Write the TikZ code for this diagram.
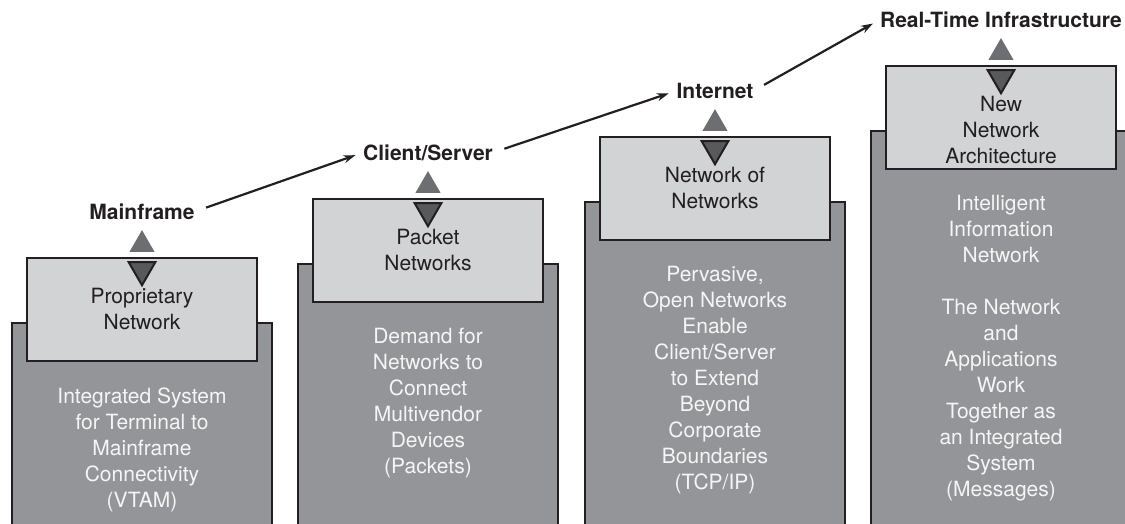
\documentclass[tikz,border=0pt]{standalone}
\usepackage{fontspec}
\setmainfont{TeX Gyre Heros}
\usetikzlibrary{positioning}
\usetikzlibrary{shapes.geometric}
\usetikzlibrary{arrows.meta}
\definecolor{pillargray}{RGB}{147,149,152}
\definecolor{boxgray}{RGB}{209,211,212}
\definecolor{upgray}{RGB}{109,110,113}
\definecolor{downgray}{RGB}{88,89,91}
\definecolor{edgegray}{RGB}{35,31,32}
\newcommand{\stagefont}{\fontsize{21}{26}\selectfont}
\tikzstyle{pillar} = [rectangle, draw=edgegray, fill=pillargray, line width=2.4pt, minimum width=260pt, minimum height=420pt, inner sep=0pt]
\tikzstyle{netbox} = [rectangle, draw=edgegray, fill=boxgray, line width=2.4pt, minimum width=230pt, minimum height=103pt, inner sep=0pt]
\tikzstyle{uptri} = [regular polygon, regular polygon sides=3, fill=upgray, inner sep=0pt, minimum size=28.9pt]
\tikzstyle{downtri} = [regular polygon, regular polygon sides=3, shape border rotate=180, fill=downgray, draw=edgegray, line width=2pt, inner sep=0pt, minimum size=31pt]
\tikzstyle{era} = [font=\bfseries\stagefont, text=edgegray, inner sep=0pt]
\tikzstyle{boxtext} = [align=center, font=\stagefont, text=edgegray, inner sep=0pt]
\tikzstyle{bodytext} = [align=center, font=\stagefont, text=white!96!black, inner sep=0pt]
\tikzstyle{flow} = [-{Stealth[length=12pt, width=8pt]}, draw=edgegray, line width=2.2pt, shorten <=12pt, shorten >=8pt]

\begin{document}
\begin{tikzpicture}[x=1pt, y=-1pt]
\useasboundingbox (0,0) rectangle (1125,524);
\clip (0,0) rectangle (1125,524);

% Define nodes
\node[pillar, anchor=north]                         (p1) at (142,322)  {};
\node[pillar, anchor=north]                         (p2) at (428,263)  {};
\node[pillar, anchor=north]                         (p3) at (715,201)  {};
\node[pillar, anchor=north]                         (p4) at (1001,130) {};

\node[netbox, anchor=north] (box1) at ([yshift=65pt]p1.north) {};
\node[netbox, anchor=north] (box2) at ([yshift=65pt]p2.north) {};
\node[netbox, anchor=north] (box3) at ([yshift=65pt]p3.north) {};
\node[netbox, anchor=north] (box4) at ([yshift=65pt]p4.north) {};

\node[uptri,   above = 5pt of box1]                 (up1)   {};
\node[downtri, below = 4pt of box1.north]           (down1) {};
\node[uptri,   above = 5pt of box2]                 (up2)   {};
\node[downtri, below = 4pt of box2.north]           (down2) {};
\node[uptri,   above = 5pt of box3]                 (up3)   {};
\node[downtri, below = 4pt of box3.north]           (down3) {};
\node[uptri,   above = 5pt of box4]                 (up4)   {};
\node[downtri, below = 4pt of box4.north]           (down4) {};

\node[era, above = 10pt of up1]                     (mainframe) {Mainframe};
\node[era, above = 10pt of up2]                     (client)    {Client/Server};
\node[era, above = 10pt of up3]                     (internet)  {Internet};
\node[era, above = 10pt of up4]                     (realtime)  {Real-Time Infrastructure};

\node[boxtext, below = 1pt of down1]                (net1) {Proprietary\\Network};
\node[boxtext, below = 1pt of down2]                (net2) {Packet\\Networks};
\node[boxtext, below = 1pt of down3]                (net3) {Network of\\Networks};
\node[boxtext, below = 1pt of down4]                (net4) {New\\Network\\Architecture};

\node[bodytext, below = 25pt of box1]               (why1) {Integrated System\\for Terminal to\\Mainframe\\Connectivity\\(VTAM)};
\node[bodytext, below = 25pt of box2]               (why2) {Demand for\\Networks to\\Connect\\Multivendor\\Devices\\(Packets)};
\node[bodytext, below = 25pt of box3]               (why3) {Pervasive,\\Open Networks\\Enable\\Client/Server\\to Extend\\Beyond\\Corporate\\Boundaries\\(TCP/IP)};
\node[bodytext, below = 25pt of box4]               (why4) {Intelligent\\Information\\Network\\[26pt]The Network\\and\\Applications\\Work\\Together as\\an Integrated\\System\\(Messages)};

% Edges
\draw[flow] (mainframe.east) -- (client.west);
\draw[flow] (client.east)    -- (internet.west);
\draw[flow] (internet.east)  -- (realtime.west);
\end{tikzpicture}
\end{document}
